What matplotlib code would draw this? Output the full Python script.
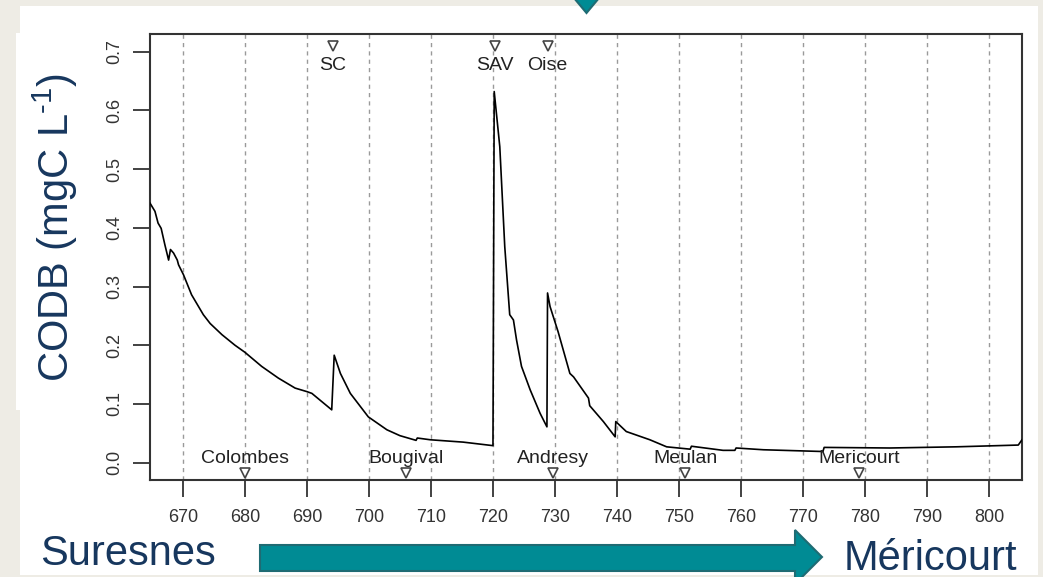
import matplotlib
matplotlib.use("Agg")
import matplotlib.pyplot as plt
from matplotlib.patches import Rectangle, Polygon

plt.rcParams['font.family'] = ['Liberation Sans', 'DejaVu Sans']
plt.rcParams['mathtext.fontset'] = 'custom'
plt.rcParams['mathtext.rm'] = 'Liberation Sans'

# ── Data: DOC concentration along the Seine (km from Paris) ───────────────────
km = [664.7, 665.5, 666.0, 666.5, 667.1, 667.7, 668.0, 668.5, 669.1, 669.3,
      670.1, 671.4, 673.3, 674.4, 676.3, 678.4, 680.0, 682.7, 685.4, 688.1,
      690.0, 690.8, 694.0, 694.4, 695.4, 697.0, 699.9, 702.9, 705.0, 707.6,
      707.8, 709.9, 715.2, 720.0, 720.2, 721.1, 721.9, 722.7, 723.3, 723.8,
      724.6, 726.0, 727.6, 728.7, 728.8, 729.2, 730.5, 732.4, 733.0, 735.4,
      735.6, 737.8, 739.7, 739.8, 741.5, 745.3, 748.0, 751.8, 752.0, 757.1,
      759.0, 759.2, 763.6, 773.2, 773.4, 784.0, 794.7, 804.7, 805.3]
codb = [0.442, 0.428, 0.408, 0.399, 0.371, 0.345, 0.363, 0.357, 0.345, 0.337,
        0.320, 0.286, 0.252, 0.237, 0.218, 0.200, 0.188, 0.164, 0.144, 0.127,
        0.121, 0.118, 0.090, 0.183, 0.152, 0.118, 0.078, 0.056, 0.046, 0.038,
        0.042, 0.039, 0.035, 0.029, 0.632, 0.538, 0.368, 0.252, 0.243, 0.209,
        0.164, 0.124, 0.084, 0.061, 0.289, 0.266, 0.223, 0.152, 0.146, 0.110,
        0.097, 0.070, 0.044, 0.070, 0.053, 0.039, 0.027, 0.023, 0.028, 0.021,
        0.021, 0.025, 0.022, 0.019, 0.026, 0.025, 0.027, 0.030, 0.039]

# inputs (top) and stations (bottom)
top_names = ["SC", "SAV", "Oise"]
top_km = [694.2, 720.3, 728.8]
bot_names = ["Colombes", "Bougival", "Andresy", "Meulan", "Mericourt"]
bot_km = [680.0, 706.0, 729.6, 751.0, 779.0]

xticks = list(range(670, 801, 10))
yticks = [0.0, 0.1, 0.2, 0.3, 0.4, 0.5, 0.6, 0.7]

W, H = 1043, 577
TEAL, TEAL_EDGE, NAVY = '#008b94', '#1f6b73', '#17375e'


def fx(px):
    return px / W


def fy(py):
    return 1 - py / H


fig = plt.figure(figsize=(W / 100, H / 100), dpi=100)
fig.patch.set_facecolor('#eeece5')

# white slide panels (behind the axes)
fig.patches.append(Rectangle((fx(20), fy(575)), fx(1038) - fx(20), fy(6) - fy(575),
                             transform=fig.transFigure, fc='white', ec='none', zorder=-2))
fig.patches.append(Rectangle((fx(16), fy(410)), fx(150) - fx(16), fy(33) - fy(410),
                             transform=fig.transFigure, fc='white', ec='none', zorder=-2))

ax = fig.add_axes([fx(150), fy(480), fx(1022) - fx(150), fy(34) - fy(480)])
ax.set_xlim(664.7, 805.3)
ax.set_ylim(-0.0295, 0.730)

for x in xticks:
    ax.axvline(x, color='#9a9a9a', lw=1.0, ls=(0, (3, 3)), zorder=1)

ax.plot(km, codb, color='black', lw=1.2, zorder=3)

# station markers
ax.plot(top_km, [0.709] * len(top_km), 'v', ms=7.5, mfc='white', mec='#444444',
        mew=1.2, zorder=4, clip_on=False)
for name, x in zip(top_names, top_km):
    ax.text(x, 0.669, name, ha='center', va='baseline', fontsize=14, color='#222222')
ax.plot(bot_km, [-0.017] * len(bot_km), 'v', ms=7.5, mfc='white', mec='#444444',
        mew=1.2, zorder=4, clip_on=False)
for name, x in zip(bot_names, bot_km):
    ax.text(x, 0.0, name, ha='center', va='baseline', fontsize=14, color='#222222')

ax.set_xticks(xticks)
ax.set_yticks(yticks)
ax.set_yticklabels([f"{v:.1f}" for v in yticks], rotation=90, va='center')
ax.tick_params(axis='both', length=12, width=1.3, color='#333333',
               labelsize=13, labelcolor='#333333')
ax.tick_params(axis='x', pad=9)
ax.tick_params(axis='y', pad=7)
for sp in ax.spines.values():
    sp.set_color('#333333')
    sp.set_linewidth(1.5)

# slide decorations
fig.text(fx(55), fy(228), r"CODB (mgC L$^{\text{-1}}$)", rotation=90,
         ha='center', va='center', fontsize=30, color=NAVY)
fig.text(fx(40), fy(565), "Suresnes", ha='left', va='baseline', fontsize=30, color=NAVY)
fig.text(fx(1017), fy(570), "Méricourt", ha='right', va='baseline', fontsize=30, color=NAVY)

arrow = [(260, 545), (795, 545), (795, 530), (822, 557), (795, 584),
         (795, 571), (260, 571)]
fig.patches.append(Polygon([(fx(a), fy(b)) for a, b in arrow], closed=True,
                           transform=fig.transFigure, fc=TEAL, ec=TEAL_EDGE, lw=1.5))
tip = [(574, -2), (599, -2), (586.5, 13)]
fig.patches.append(Polygon([(fx(a), fy(b)) for a, b in tip], closed=True,
                           transform=fig.transFigure, fc=TEAL, ec=TEAL_EDGE, lw=1.5))

fig.savefig("out.png", dpi=100, facecolor=fig.get_facecolor())
